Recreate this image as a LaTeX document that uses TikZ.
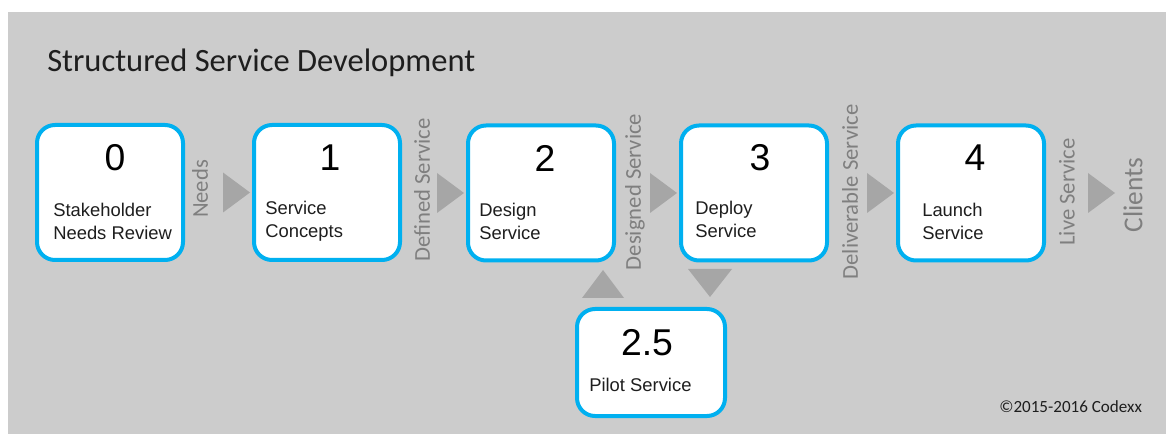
\documentclass[tikz,border=0pt]{standalone}
\usepackage{fontspec}
\setmainfont{Liberation Sans}
\newfontfamily\calfont{Carlito}
\usetikzlibrary{calc}
\definecolor{panel}{HTML}{CCCCCC}
\definecolor{stageblue}{HTML}{00B0F0}
\definecolor{flowgray}{HTML}{A6A6A6}
\definecolor{labelgray}{HTML}{7F7F7F}
\definecolor{inkdark}{HTML}{1E1E1E}
\begin{document}
\begin{tikzpicture}[x=0.75pt,y=-0.75pt,
  stagebox/.style={draw=stageblue, line width=3pt, fill=white, rounded corners=13.5pt,
    minimum width=109.5pt, minimum height=101.25pt, inner sep=0pt},
  stagenum/.style={font=\fontsize{28}{30}\selectfont, text=black, inner sep=0pt},
  stagetext/.style={font=\fontsize{13.8}{17.25}\selectfont, text=inkdark, align=left,
    anchor=west, inner sep=0pt},
  flowlabel/.style={font=\calfont\fontsize{17}{20}\selectfont, text=labelgray,
    rotate=90, inner sep=0pt},
  flowtri/.style={fill=flowgray}
]
\useasboundingbox (0,0) rectangle (1166,434);
\fill[panel] (8,12) rectangle (1166,434);

% title
\node[font=\calfont\fontsize{24.4}{28}\selectfont, text=inkdark, anchor=base west, inner sep=0pt]
  (title) at (47,72) {Structured Service Development};

% stage boxes
\node[stagebox] (b0) at (110,192.5) {};
\node[stagebox] (b1) at (327,192.5) {};
\node[stagebox] (b2) at (541,193) {};
\node[stagebox] (b3) at (754,193) {};
\node[stagebox] (b4) at (971,193) {};
\node[stagebox, minimum width=111pt, minimum height=80.25pt] (b25) at (651,362.5) {};

% stage numbers
\node[stagenum] (n0) at ($(b0.center)+(5,-35)$) {0};
\node[stagenum] (n1) at ($(b1.center)+(3,-35)$) {1};
\node[stagenum] (n2) at ($(b2.center)+(4,-35)$) {2};
\node[stagenum] (n3) at ($(b3.center)+(6,-35)$) {3};
\node[stagenum] (n4) at ($(b4.center)+(4,-35)$) {4};
\node[stagenum] (n25) at ($(b25.center)+(-4,-19.5)$) {2.5};

% stage names
\node[stagetext] (t0) at ($(b0.west)+(18,28.5)$) {Stakeholder\\Needs Review};
\node[stagetext] (t1) at ($(b1.west)+(13,28.5)$) {Service\\Concepts};
\node[stagetext] (t2) at ($(b2.west)+(13,28.5)$) {Design\\Service};
\node[stagetext] (t3) at ($(b3.west)+(16,26)$) {Deploy\\Service};
\node[stagetext] (t4) at ($(b4.west)+(26,28.5)$) {Launch\\Service};
\node[stagetext] (t25) at ($(b25.west)+(14,22.5)$) {Pilot Service};

% flow labels
\node[flowlabel] (l0) at (200,189) {Needs};
\node[flowlabel] (l1) at (422,190) {Defined Service};
\node[flowlabel] (l2) at (635,192) {Designed Service};
\node[flowlabel] (l3) at (850,192) {Deliverable Service};
\node[flowlabel] (l4) at (1067,192) {Live Service};
\node[font=\calfont\fontsize{20.5}{24}\selectfont, text=labelgray, rotate=90, inner sep=0pt]
  (clients) at (1133,195) {Clients};

% flow arrows between stages
\fill[flowtri] ($(b1.west)+(-2,0)$) -- ++(-27,-20) -- ++(0,40) -- cycle;
\fill[flowtri] ($(b2.west)+(-2,0)$) -- ++(-27,-20) -- ++(0,40) -- cycle;
\fill[flowtri] ($(b3.west)+(-2,0)$) -- ++(-27,-20) -- ++(0,40) -- cycle;
\fill[flowtri] ($(b4.west)+(-2,0)$) -- ++(-27,-20) -- ++(0,40) -- cycle;
\fill[flowtri] ($(clients.center)+(-18,-2)$) -- ++(-27,-20) -- ++(0,40) -- cycle;

% pilot loop
\fill[flowtri] ($(b25.north)+(-48,-9)$) -- ++(-21,0) -- ++(21,-28) -- ++(21,28) -- cycle;
\fill[flowtri] ($(b25.north)+(59,-10)$) -- ++(-22,-28) -- ++(44,0) -- cycle;

% copyright
\node[font=\calfont\fontsize{12.8}{15}\selectfont, text=inkdark, anchor=base west, inner sep=0pt]
  (copy) at (999,412) {©2015-2016 Codexx};
\end{tikzpicture}
\end{document}
